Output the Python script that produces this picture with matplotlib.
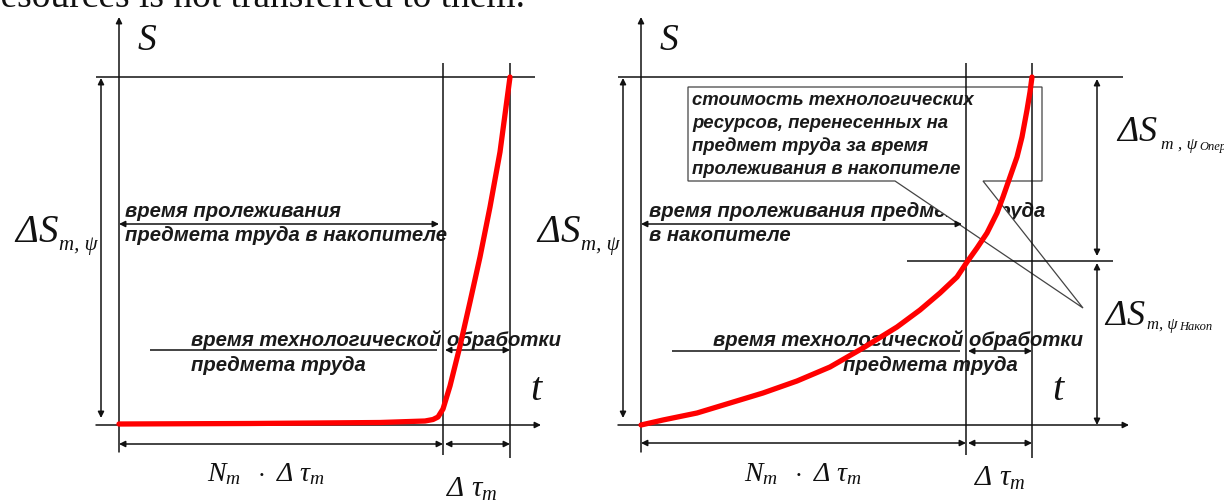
## two cost-accumulation diagrams (S over t), drawn in pixel coordinates

import matplotlib
matplotlib.use("Agg")
import matplotlib.pyplot as plt
from matplotlib.patches import Polygon

plt.rcParams['mathtext.fontset'] = 'custom'
plt.rcParams['mathtext.rm'] = 'Liberation Serif'
plt.rcParams['mathtext.it'] = 'Liberation Serif:italic'
plt.rcParams['mathtext.sf'] = 'Liberation Serif:italic'   # used for italic capital Delta

## DATA (pixel units)
# left panel
left_x0, left_y0, left_top = 119, 425, 77
left_t1, left_t2 = 443, 510
left_xend = 541
left_curve_x = [119, 250, 380, 425, 433, 438, 443, 450, 460, 470, 480, 490, 500, 510]
left_curve_y = [424, 423.5, 422.5, 421, 419.5, 417, 409, 386, 346, 302, 257, 207, 152, 77]

# right panel
right_x0, right_y0, right_top = 641, 425, 77
right_t1, right_t2 = 966, 1032
right_xend = 1129
right_split = 261
right_curve_x = [641, 663, 697, 730, 763, 797, 830, 863, 897, 920, 940, 957, 967,
                 977, 987, 997, 1003, 1010, 1017, 1022, 1027, 1030, 1032]
right_curve_y = [425, 420, 413, 403, 393, 381, 367, 348, 327, 310, 293, 277, 262,
                 248, 233, 213, 197, 177, 157, 137, 110, 92, 77]

# callout box (outline incl. wedge pointing at the two cost parts)
callout_x = [688, 1042, 1042, 983, 1083, 895, 688]
callout_y = [87, 87, 181, 181, 308, 181, 181]

callout_lines = ['стоимость технологических',
                 'ресурсов, перенесенных на',
                 'предмет труда за время',
                 'пролеживания в накопителе']

txt_store_l = ['время пролеживания', 'предмета труда в накопителе']
txt_store_r = ['время пролеживания предмета труда', 'в накопителе']
txt_proc_1 = 'время технологической обработки'
txt_proc_2 = 'предмета труда'
top_text = 'resources is not transferred to them.'

## FIGURE
fig = plt.figure(figsize=(12.24, 5.03), dpi=100)
ax = fig.add_axes([0, 0, 1, 1])
ax.set_xlim(0, 1224)
ax.set_ylim(503, 0)
ax.axis('off')

K = '#111111'
ru = dict(family='Liberation Sans', weight='bold', style='italic', fontsize=14.6, color='#1a1a1a')
ru_box = dict(ru, fontsize=13.3)
serif = dict(family='Liberation Serif', style='italic', color=K)


def arrow(x1, y1, x2, y2, style='<|-|>', z=3):
    ax.annotate('', xy=(x2, y2), xytext=(x1, y1),
                arrowprops=dict(arrowstyle=style, lw=1.1, color=K, shrinkA=0, shrinkB=0,
                                mutation_scale=9), zorder=z)


def line(xs, ys, lw=1.1, c=K, z=3):
    ax.plot(xs, ys, color=c, lw=lw, zorder=z, solid_capstyle='butt')


def delta_s(x, y, size, sub, sub_size, extra=None, extra_size=None, dx=0, dy=0):
    # "ΔS" with a small italic subscript written after it
    t = ax.text(x, y, r'$\mathsf{\Delta}S$', ha='left', va='baseline', fontsize=size, color=K)
    fig.canvas.draw()
    bb = t.get_window_extent()
    xs = bb.x1 + dx
    s = ax.text(xs, y + dy, sub, ha='left', va='baseline', fontsize=sub_size, **serif)
    if extra:
        fig.canvas.draw()
        bb2 = s.get_window_extent()
        ax.text(bb2.x1 + 2, y + dy + 1, extra, ha='left', va='baseline',
                fontsize=extra_size, **serif)


# top text, cut off by the crop
ax.text(525, 7, top_text, ha='right', va='baseline', family='Liberation Serif',
        fontsize=27, color=K, zorder=1)


def panel(x0, y0, top, t1, t2, xend, cx, cy, dim_y, n_x):
    # axes
    arrow(x0, 452, x0, 17, style='-|>')
    arrow(x0 - 23, y0, xend, y0, style='-|>')
    # top level line and time markers
    line([x0 - 23, xend - 6], [top, top])
    line([t1, t1], [63, 455])
    line([t2, t2], [63, 458])
    # S range arrow
    arrow(x0 - 18, top + 1, x0 - 18, 418)
    # time dimension arrows
    arrow(x0, dim_y, t1, dim_y)
    arrow(t1 + 2, dim_y, t2, dim_y)
    # curve
    ax.plot(cx, cy, color='#ff0000', lw=3.8, zorder=4, solid_capstyle='round',
            solid_joinstyle='round')
    # labels
    ax.text(x0 + 19, 41, 'S', ha='left', va='center', fontsize=27, **serif)
    ax.text(t2 + 20, 390, 't', ha='left', va='center', fontsize=29, **serif)
    ax.text(n_x, 481, r'$N_{m}\ \ \cdot\ \mathsf{\Delta}\ \tau_{m}$', ha='center',
            va='baseline', fontsize=20, color=K)


panel(left_x0, left_y0, left_top, left_t1, left_t2, left_xend,
      left_curve_x, left_curve_y, 444, 266)
panel(right_x0, right_y0, right_top, right_t1, right_t2, right_xend,
      right_curve_x, right_curve_y, 443, 803)

# ΔS labels
delta_s(14, 242, 28, 'm, ψ', 15, dy=8)
delta_s(536, 242, 28, 'm, ψ', 15, dy=8)
delta_s(1116, 141, 26, 'm , ψ', 12.5, extra='Опер', extra_size=9, dx=3, dy=8)
delta_s(1104, 325, 26, 'm, ψ', 12, extra='Накоп', extra_size=9, dx=1, dy=4)

# delta tau labels
ax.text(472, 497, r'$\mathsf{\Delta}\ \tau_{m}$', ha='center', va='baseline',
        fontsize=21, color=K)
ax.text(1000, 486, r'$\mathsf{\Delta}\ \tau_{m}$', ha='center', va='baseline',
        fontsize=21, color=K)

# left panel texts
arrow(left_x0, 224, 439, 224)
ax.text(125, 217, txt_store_l[0], va='baseline', zorder=1, **ru)
ax.text(125, 241, txt_store_l[1], va='baseline', zorder=1, **ru)
line([150, 437], [350, 350])
arrow(left_t1 + 2, 350, left_t2, 350)
ax.text(191, 346, txt_proc_1, va='baseline', zorder=1, **ru)
ax.text(191, 371, txt_proc_2, va='baseline', zorder=1, **ru)

# right panel texts
arrow(right_x0, 224, 962, 224)
ax.text(649, 217, txt_store_r[0], va='baseline', zorder=1, **ru)
ax.text(649, 241, txt_store_r[1], va='baseline', zorder=1, **ru)
line([672, 960], [351, 351])
arrow(right_t1 + 2, 351, right_t2, 351)
ax.text(713, 346, txt_proc_1, va='baseline', zorder=1, **ru)
ax.text(843, 371, txt_proc_2, va='baseline', zorder=1, **ru)

# split of the right S range
line([907, 1113], [right_split, right_split])
arrow(1097, right_top + 2, 1097, right_split - 5)
arrow(1097, right_split + 2, 1097, right_y0)

# callout
ax.add_patch(Polygon(list(zip(callout_x, callout_y)), closed=True, facecolor='white',
                     edgecolor='#444444', lw=0.9, zorder=2))
for i, s in enumerate(callout_lines):
    ax.text(692, 105 + i * 23, s, va='baseline', zorder=5, **ru_box)

fig.savefig('out.png', dpi=100)
